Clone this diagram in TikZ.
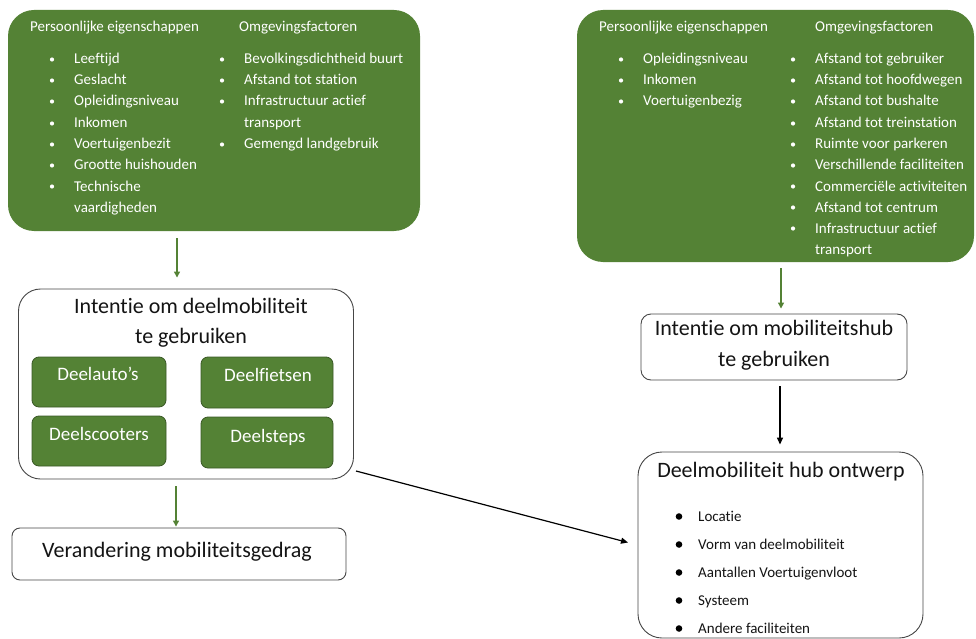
\documentclass[tikz,border=0pt]{standalone}
\usepackage{fontspec}
\setmainfont[Ligatures={NoCommon}]{Carlito}
\usetikzlibrary{arrows.meta}
\definecolor{grn}{RGB}{84,130,53}
\definecolor{grnline}{RGB}{58,88,38}
\definecolor{bord}{RGB}{70,70,70}
\definecolor{txt}{RGB}{20,20,20}
\newcommand\myitem[6]{%
  \fill[#5] (#1,#2-4.5) circle (#6);
  \node[anchor=base west, inner sep=0, text=#5] (#3) at (#1+22,#2) {#4};}
\newcommand\hubitem[4]{%
  \fill[black] (#1,#2-4.5) circle (3.3);
  \node[anchor=base west, inner sep=0, text=txt] (#3) at (#1+19,#2) {#4};}
\begin{document}
\begin{tikzpicture}[x=1pt,y=-1pt,
  gbox/.style={fill=grn, draw=none, rounded corners=26pt},
  wbox/.style={draw=bord, line width=0.9pt, fill=white},
  sbox/.style={fill=grn, draw=grnline, line width=0.8pt, rounded corners=7pt},
  gtext/.style={inner sep=0, text=white, font=\fontsize{15}{18}\selectfont},
  ttl/.style={inner sep=0, text=txt, font=\fontsize{22}{30}\selectfont},
  garrow/.style={draw=grn, line width=1.3pt, -{Triangle[length=6pt,width=6pt]}},
  barrow/.style={draw=black, line width=1.4pt, -{Triangle[length=7pt,width=6pt]}},
]
\useasboundingbox (0,0) rectangle (976,639);

% ---------- top left green box ----------
\node[gbox, minimum width=412, minimum height=221] (g1) at (214,120.5) {};
\begin{scope}[font=\fontsize{15}{18}\selectfont]
\node[gtext, anchor=base west] (h1a) at (30,32) {Persoonlijke eigenschappen};
\node[gtext, anchor=base west] (h1b) at (239,32) {Omgevingsfactoren};
\myitem{52}{64}{a1}{Leeftijd}{white}{2.1}
\myitem{52}{85}{a2}{Geslacht}{white}{2.1}
\myitem{52}{106}{a3}{Opleidingsniveau}{white}{2.1}
\myitem{52}{128}{a4}{Inkomen}{white}{2.1}
\myitem{52}{149}{a5}{Voertuigenbezit}{white}{2.1}
\myitem{52}{170}{a6}{Grootte huishouden}{white}{2.1}
\myitem{52}{191}{a7}{Technische}{white}{2.1}
\node[gtext, anchor=base west] (a7b) at (74,212) {vaardigheden};
\myitem{222}{64}{b1}{Bevolkingsdichtheid buurt}{white}{2.1}
\myitem{222}{85}{b2}{Afstand tot station}{white}{2.1}
\myitem{222}{106}{b3}{Infrastructuur actief}{white}{2.1}
\node[gtext, anchor=base west] (b3b) at (244,128) {transport};
\myitem{222}{149}{b4}{Gemengd landgebruik}{white}{2.1}

% ---------- top right green box ----------
\node[gbox, minimum width=397, minimum height=252] (g2) at (775.5,136) {};
\node[gtext, anchor=base west] (h2a) at (599,32) {Persoonlijke eigenschappen};
\node[gtext, anchor=base west] (h2b) at (815,32) {Omgevingsfactoren};
\myitem{621}{64}{c1}{Opleidingsniveau}{white}{2.1}
\myitem{621}{85}{c2}{Inkomen}{white}{2.1}
\myitem{621}{106}{c3}{Voertuigenbezig}{white}{2.1}
\myitem{793}{64}{d1}{Afstand tot gebruiker}{white}{2.1}
\myitem{793}{85}{d2}{Afstand tot hoofdwegen}{white}{2.1}
\myitem{793}{106}{d3}{Afstand tot bushalte}{white}{2.1}
\myitem{793}{128}{d4}{Afstand tot treinstation}{white}{2.1}
\myitem{793}{149}{d5}{Ruimte voor parkeren}{white}{2.1}
\myitem{793}{170}{d6}{Verschillende faciliteiten}{white}{2.1}
\myitem{793}{191}{d7}{Commerciële activiteiten}{white}{2.1}
\myitem{793}{212}{d8}{Afstand tot centrum}{white}{2.1}
\myitem{793}{233}{d9}{Infrastructuur actief}{white}{2.1}
\node[gtext, anchor=base west] (d9b) at (815,254) {transport};
\end{scope}

% ---------- left intention box ----------
\node[wbox, rounded corners=22pt, minimum width=335, minimum height=190] (i1) at (186,384) {};
\node[ttl, anchor=base] (i1a) at (191,313) {Intentie om deelmobiliteit};
\node[ttl, anchor=base] (i1b) at (191,343) {te gebruiken};

\node[sbox, minimum width=134, minimum height=50] (s1) at (99,382) {};
\node[sbox, minimum width=132, minimum height=51] (s2) at (267,382.5) {};
\node[sbox, minimum width=134, minimum height=50] (s3) at (99,441) {};
\node[sbox, minimum width=132, minimum height=51] (s4) at (267,442.5) {};
\begin{scope}[every node/.style={inner sep=0, text=white, font=\fontsize{19}{22}\selectfont, anchor=base}]
\node (s1t) at (98,380) {Deelauto’s};
\node (s2t) at (268,381) {Deelfietsen};
\node (s3t) at (99,440) {Deelscooters};
\node (s4t) at (268,442) {Deelsteps};
\end{scope}

% ---------- verandering ----------
\node[wbox, rounded corners=8pt, minimum width=334, minimum height=52] (v) at (179,554) {};
\node[ttl, anchor=base] (vt) at (177,557) {Verandering mobiliteitsgedrag};

% ---------- right intention box ----------
\node[wbox, rounded corners=10pt, minimum width=266, minimum height=66] (i2) at (774,347) {};
\node[ttl, anchor=base] (i2a) at (774,335) {Intentie om mobiliteitshub};
\node[ttl, anchor=base] (i2b) at (774,366) {te gebruiken};

% ---------- hub design box ----------
\node[wbox, rounded corners=24pt, minimum width=285, minimum height=186] (h) at (780.5,545) {};
\node[ttl, anchor=base] (ht) at (781,477) {Deelmobiliteit hub ontwerp};
\begin{scope}[font=\fontsize{15}{18}\selectfont]
\hubitem{679}{521}{e1}{Locatie}
\hubitem{679}{549}{e2}{Vorm van deelmobiliteit}
\hubitem{679}{577}{e3}{Aantallen Voertuigenvloot}
\hubitem{679}{605}{e4}{Systeem}
\hubitem{679}{633}{e5}{Andere faciliteiten}
\end{scope}

% ---------- connectors ----------
\coordinate (xl) at (177,0);
\coordinate (xr) at (781,0);
\coordinate (xm) at (780,0);
\coordinate (xv) at (176,0);
\draw[garrow, shorten <=7pt, shorten >=11pt] (g1.south -| xl) -- (i1.north -| xl);
\draw[garrow, shorten <=6pt, shorten >=5pt] (g2.south -| xr) -- (i2.north -| xr);
\draw[garrow, shorten <=7pt, shorten >=1pt] (i1.south -| xv) -- (v.north -| xv);
\draw[barrow, shorten <=6pt, shorten >=7pt] (i2.south -| xm) -- (h.north -| xm);
\coordinate (ds) at (356,471);
\coordinate (de) at (628,542.5);
\draw[barrow, line width=1.2pt] (ds) -- (de);
\end{tikzpicture}
\end{document}
